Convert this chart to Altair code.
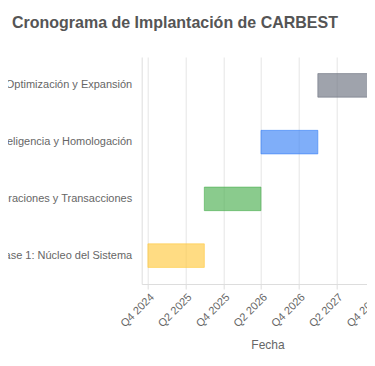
import altair as alt
import pandas as pd

phases = [
    "Fase 1: Núcleo del Sistema",
    "Fase 2: Operaciones y Transacciones",
    "Fase 3: Inteligencia y Homologación",
    "Fase 4: Optimización y Expansión",
]
starts = ["2024-10-01T00:00", "2025-07-01T00:00", "2026-04-01T00:00", "2027-01-01T00:00"]
ends = ["2025-07-01T00:00", "2026-04-01T00:00", "2027-01-01T00:00", "2027-12-01T00:00"]
colors = ["#FFC940", "#4CAF50", "#3B82F6", "#6B7280"]

tick_dates = [(2024, 10), (2025, 4), (2025, 10), (2026, 4), (2026, 10), (2027, 4), (2027, 10)]

df = pd.DataFrame({"Fase": phases, "Inicio": starts, "Fin": ends})

font = "Liberation Sans"

chart = (
    alt.Chart(df)
    .mark_bar(fillOpacity=0.65, strokeOpacity=0.6, strokeWidth=1)
    .encode(
        x=alt.X(
            "Inicio:T",
            title="Fecha",
            scale=alt.Scale(
                domain=[
                    alt.DateTime(year=2024, month=9, date=1),
                    alt.DateTime(year=2028, month=1, date=1),
                ]
            ),
            axis=alt.Axis(
                values=[alt.DateTime(year=y, month=m, date=1) for y, m in tick_dates],
                format="Q%q %Y",
                labelAngle=-45,
                titlePadding=11,
            ),
        ),
        x2="Fin:T",
        y=alt.Y(
            "Fase:N",
            title=None,
            sort="descending",
            scale=alt.Scale(paddingInner=0.585, paddingOuter=0.2925),
            axis=alt.Axis(ticks=False, labelPadding=10, grid=False, labelLimit=0),
        ),
        color=alt.Color(
            "Fase:N", scale=alt.Scale(domain=phases, range=colors), legend=None
        ),
        stroke=alt.Stroke(
            "Fase:N", scale=alt.Scale(domain=phases, range=colors), legend=None
        ),
    )
    .properties(
        width=251.6,
        height=227,
        title=alt.TitleParams(
            "Cronograma de Implantación de CARBEST",
            anchor="start",
            frame="group",
            dx=-129.7,
            offset=26,
            fontSize=16,
            fontWeight="bold",
            color="#555555",
            font=font,
        ),
        autosize=alt.AutoSizeParams(type="none"),
        padding={"left": 133.7, "top": 49, "right": -26.6, "bottom": 74},
    )
    .configure_axis(
        labelFont=font,
        titleFont=font,
        labelFontSize=11,
        titleFontSize=12,
        labelColor="#666666",
        titleColor="#666666",
        titleFontWeight="normal",
        domainColor="#dddddd",
        tickColor="#dddddd",
        gridColor="#e5e5e5",
    )
    .configure_view(stroke=None)
)

chart.save("out.html", embed_options={"renderer": "svg", "actions": False})
